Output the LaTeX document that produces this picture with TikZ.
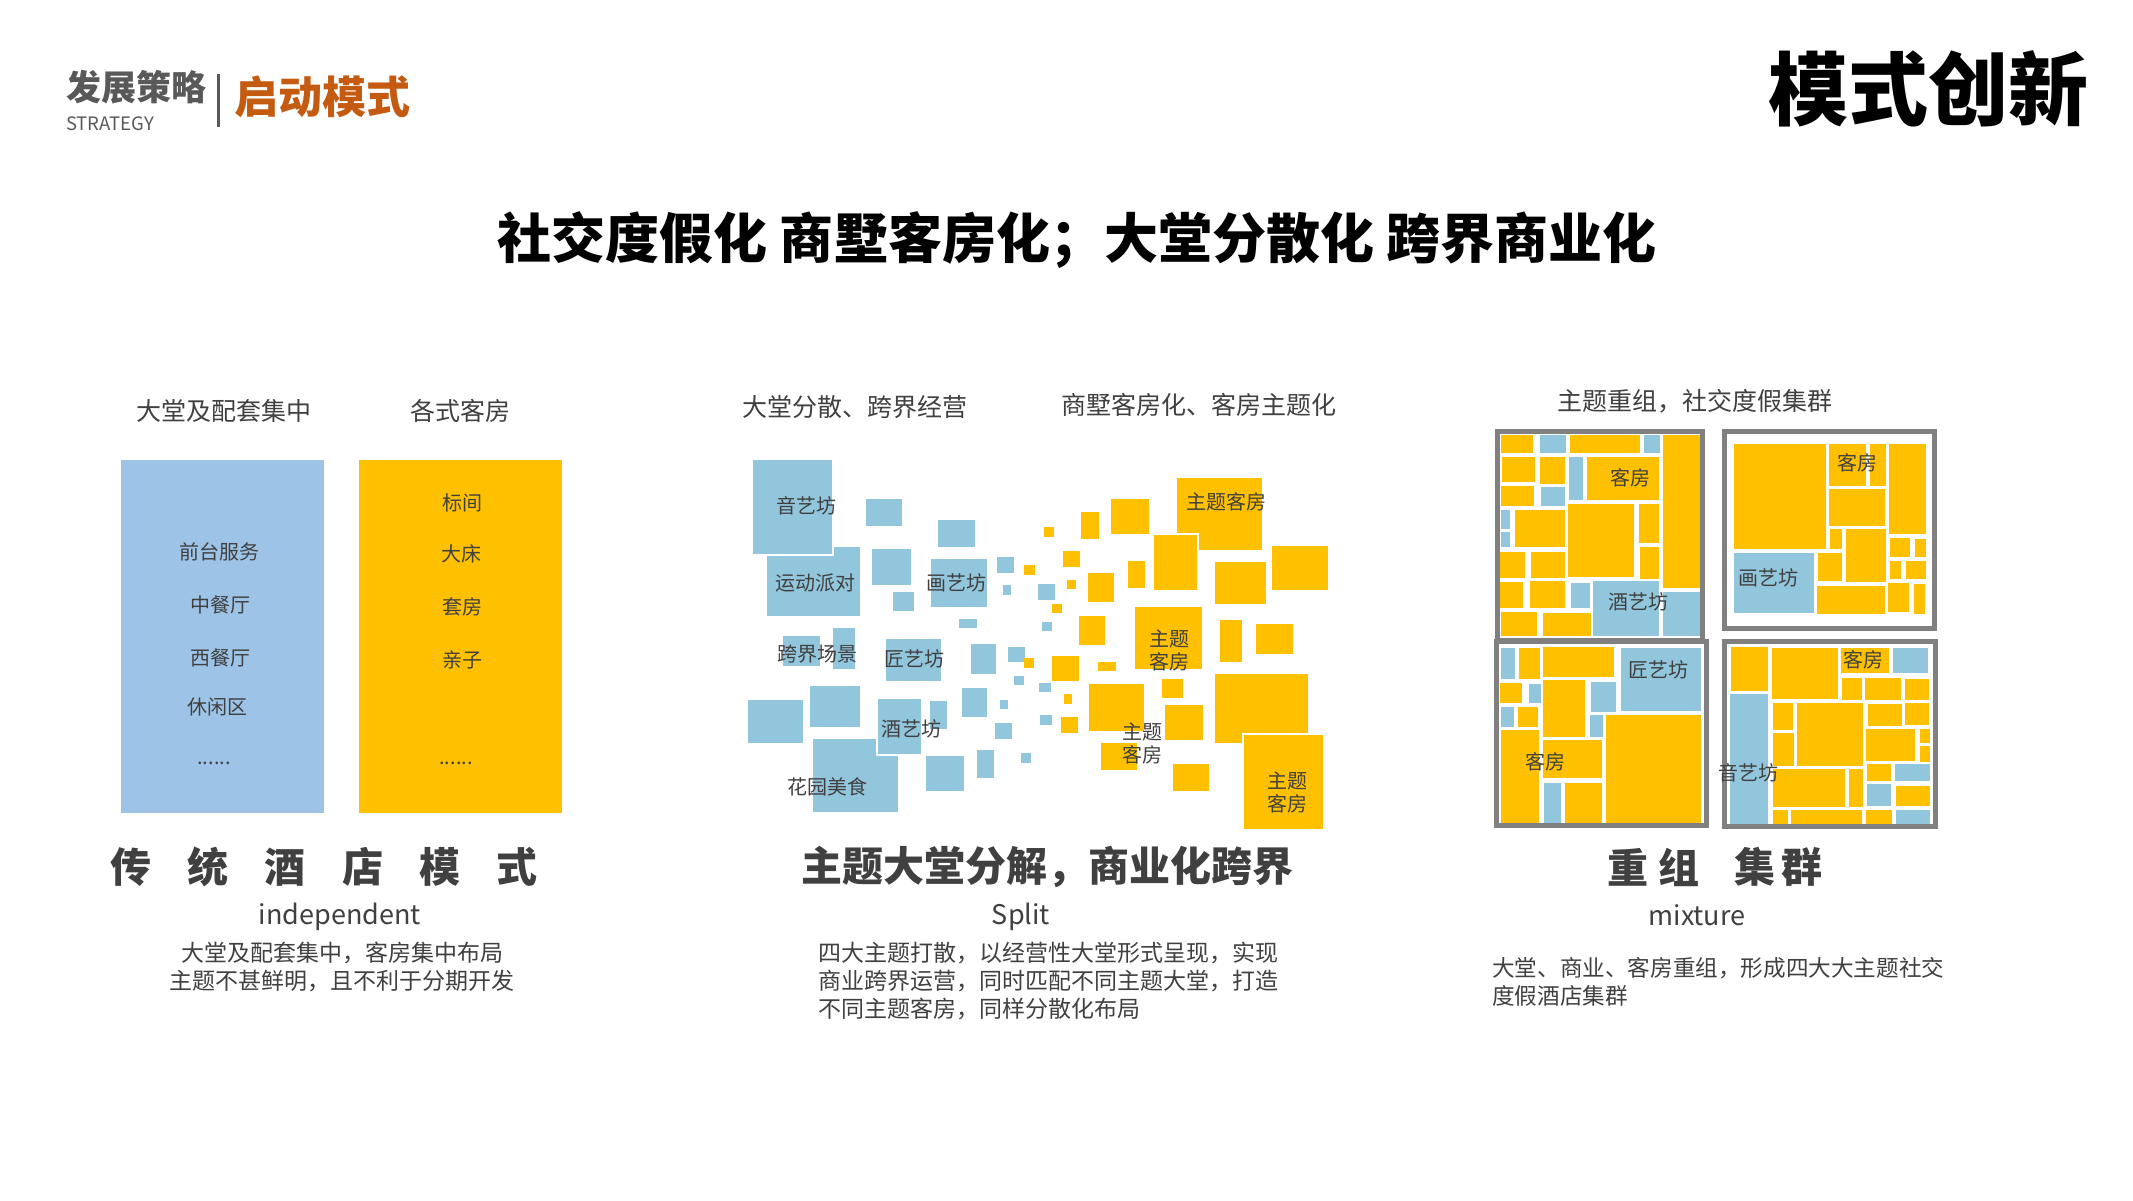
\documentclass[tikz,border=0pt]{standalone}
\usepackage{fontspec}
\setmainfont{Noto Sans CJK SC}
\usetikzlibrary{positioning}

\definecolor{ylw}{HTML}{FFC000}
\definecolor{skyb}{HTML}{92C6DC}
\definecolor{paleb}{HTML}{9DC3E6}
\definecolor{txtgray}{HTML}{404040}
\definecolor{hdgray}{HTML}{595959}
\definecolor{rust}{HTML}{C55A11}
\definecolor{framegray}{HTML}{808080}

\tikzset{
	lbl/.style={inner sep=0pt, text=txtgray, align=center, font=\fontsize{20}{23}\selectfont},
	colhead/.style={inner sep=0pt, text=txtgray, font=\fontsize{25}{30}\selectfont},
	subhead/.style={inner sep=0pt, text=txtgray, font=\fontsize{41}{48}\selectfont\bfseries},
	engl/.style={inner sep=0pt, text=txtgray, font=\fontsize{27}{32}\selectfont},
	desc/.style={inner sep=0pt, text=txtgray, font=\fontsize{23}{28}\selectfont},
	grpframe/.style={draw=framegray, line width=5pt},
	cover/.style={draw=white, line width=2pt},
	cell/.style={draw=white, line width=1pt},
}

\begin{document}
\begin{tikzpicture}[x=1pt, y=-1pt]
	\useasboundingbox (0,0) rectangle (2133,1200);
	\fill[white] (0,0) rectangle (2133,1200);

	% header
	\node[inner sep=0pt, anchor=west, text=hdgray, font=\fontsize{35}{40}\selectfont\bfseries] (strat) at (66,87) {发展策略};
	\node[inner sep=0pt, anchor=west, text=hdgray, font=\fontsize{18.5}{22}\selectfont] (stratEn) at (66,124) {STRATEGY};
	\coordinate (barTop) at (218,74);
	\coordinate (barBot) at (218,127);
	\draw[hdgray, line width=3pt] (barTop) -- (barBot);
	\node[inner sep=0pt, anchor=west, text=rust, font=\fontsize{44}{50}\selectfont\bfseries] (start) at (234,97) {启动模式};
	\node[inner sep=0pt, font=\fontsize{80}{90}\selectfont\bfseries] (innov) at (1928,89) {模式创新};
	\node[inner sep=0pt, font=\fontsize{54}{60}\selectfont\bfseries] (title) at (1077,240) {社交度假化 商墅客房化；大堂分散化 跨界商业化};

	% traditional hotel
	\node[colhead] (lobbyHead) at (224,411) {大堂及配套集中};
	\node[colhead] (roomHead) at (460,411) {各式客房};
	\fill[paleb] (121,460) rectangle (324,813);
	\fill[ylw] (359,460) rectangle (562,813);
	\node[lbl] (desk) at (219,552) {前台服务};
	\node[lbl] (chn) at (220,605) {中餐厅};
	\node[lbl] (wst) at (220,658) {西餐厅};
	\node[lbl] (rest) at (217,707) {休闲区};
	\node[lbl] (moreL) at (214,763) {......};
	\node[lbl] (std) at (462,503) {标间};
	\node[lbl] (king) at (461,554) {大床};
	\node[lbl] (suite) at (462,607) {套房};
	\node[lbl] (family) at (462,660) {亲子};
	\node[lbl] (moreR) at (456,763) {......};

	\foreach \ch [count=\i] in {传,统,酒,店,模,式}
		\node[subhead] (trad\i) at ({131+77.2*(\i-1)},867) {\ch};
	\node[engl] (indep) at (340,917) {independent};
	\node[desc, align=center, anchor=north] (tradDesc) at (342,942) {大堂及配套集中，客房集中布局\\主题不甚鲜明，且不利于分期开发};

	% split lobby
	\node[colhead] (splitHead) at (855,407) {大堂分散、跨界经营};
	\node[colhead] (themeHead) at (1199,405) {商墅客房化、客房主题化};
	\foreach \a/\b/\c/\d in {767/547/860/616, 866/499/902/526, 938/520/975/547, 872/549/911/585,
		893/592/914/611, 931/559/987/607, 997/557/1014/573, 1003/585/1011/595, 959/619/977/628,
		783/636/820/666, 833/628/855/669, 886/639/941/681, 971/644/996/674, 1008/647/1025/662,
		1014/676/1024/685, 748/700/803/743, 810/686/860/727, 813/739/898/812, 930/701/947/729,
		962/688/987/717, 1000/700/1008/709, 995/723/1012/739, 926/756/964/791, 977/750/994/778,
		1021/753/1031/763, 1038/584/1055/600, 1042/622/1052/631, 1039/683/1051/692, 1040/715/1052/725}
		\fill[skyb] (\a,\b) rectangle (\c,\d);
	\filldraw[fill=skyb, cover] (752,459) rectangle (833,555);
	\filldraw[fill=skyb, cover] (877,698) rectangle (922,755);
	\foreach \a/\b/\c/\d in {1024/565/1035/575, 1024/658/1034/668, 1044/527/1054/537, 1081/512/1099/539,
		1111/499/1149/534, 1177/478/1262/550, 1063/551/1080/567, 1067/580/1076/589, 1088/573/1114/602,
		1128/561/1145/588, 1215/562/1266/604, 1272/546/1328/590, 1052/604/1062/613, 1079/616/1105/645,
		1135/607/1202/669, 1220/620/1242/662, 1256/624/1293/654, 1052/656/1079/681, 1098/662/1116/671,
		1064/694/1072/704, 1089/684/1144/731, 1162/679/1183/698, 1165/705/1203/740, 1215/674/1308/743,
		1061/717/1078/733, 1101/743/1137/770, 1173/764/1209/791}
		\fill[ylw] (\a,\b) rectangle (\c,\d);
	\filldraw[fill=ylw, cover] (1153,534) rectangle (1198,591);
	\filldraw[fill=ylw, cover] (1243,734) rectangle (1324,830);

	\node[lbl] (music) at (806,506) {音艺坊};
	\node[lbl] (sport) at (815,583) {运动派对};
	\node[lbl] (paint) at (956,583) {画艺坊};
	\node[lbl] (cross) at (817,654) {跨界场景};
	\node[lbl] (craft) at (914,659) {匠艺坊};
	\node[lbl] (wine) at (911,729) {酒艺坊};
	\node[lbl] (garden) at (827,787) {花园美食};
	\node[lbl] (roomA) at (1226,502) {主题客房};
	\node[lbl] (roomB) at (1169,650) {主题\\客房};
	\node[lbl] (roomC) at (1142,743) {主题\\客房};
	\node[lbl] (roomD) at (1287,792) {主题\\客房};

	\node[subhead] (splitSub) at (1047,867) {主题大堂分解，商业化跨界};
	\node[engl] (split) at (1021,917) {Split};
	\node[desc, align=left, anchor=north west] (splitDesc) at (818,942) {四大主题打散，以经营性大堂形式呈现，实现\\商业跨界运营，同时匹配不同主题大堂，打造\\不同主题客房，同样分散化布局};

	% clusters
	\node[colhead] (clusterHead) at (1695,401) {主题重组，社交度假集群};
	\foreach \a/\b/\c/\d in {1500/434/1533/453, 1569/434/1640/453, 1662/434/1701/588, 1501/456/1535/482,
		1539/456/1565/484, 1586/456/1659/500, 1500/485/1534/506, 1514/509/1565/547, 1567/503/1634/577,
		1638/503/1659/543, 1639/546/1659/579, 1498/551/1525/578, 1530/551/1565/578, 1498/581/1523/608,
		1529/580/1565/608, 1500/611/1537/636, 1542/612/1591/636,
		1733/443/1826/549, 1828/443/1866/486, 1869/443/1886/486, 1888/443/1926/534, 1828/488/1885/526,
		1829/528/1842/549, 1845/528/1886/582, 1889/537/1910/557, 1914/538/1926/557, 1889/560/1901/579,
		1905/560/1926/579, 1817/552/1842/581, 1816/585/1885/614, 1887/582/1909/612, 1913/583/1925/614,
		1518/647/1540/679, 1542/646/1614/677, 1499/682/1522/703, 1542/679/1585/737, 1517/706/1538/727,
		1605/714/1701/823, 1500/729/1539/823, 1542/739/1602/778, 1564/782/1602/823,
		1730/646/1768/691, 1771/647/1838/699, 1840/647/1889/673, 1841/677/1862/700, 1864/677/1901/700,
		1904/678/1929/700, 1772/702/1793/730, 1796/702/1863/766, 1867/703/1902/726, 1904/702/1929/725,
		1772/732/1794/766, 1865/728/1915/761, 1919/728/1930/743, 1919/745/1930/762, 1772/768/1845/807,
		1848/768/1863/807, 1866/763/1891/781, 1895/785/1930/806, 1772/809/1788/824, 1790/809/1862/824,
		1865/809/1892/824}
		\filldraw[fill=ylw, cell] (\a,\b) rectangle (\c,\d);
	\foreach \a/\b/\c/\d in {1539/434/1566/453, 1643/434/1660/453, 1568/456/1583/500, 1540/486/1565/506,
		1500/509/1510/529, 1500/531/1510/547, 1570/582/1590/608, 1592/580/1659/636, 1662/591/1701/636,
		1733/552/1814/613,
		1500/647/1515/679, 1620/647/1701/711, 1528/683/1541/703, 1590/681/1616/712, 1500/706/1514/727,
		1589/714/1603/737, 1543/782/1561/823,
		1729/693/1768/824, 1892/647/1928/673, 1894/763/1930/781, 1866/783/1891/806, 1895/809/1930/824}
		\filldraw[fill=skyb, cell] (\a,\b) rectangle (\c,\d);
	\draw[grpframe] (1497.5,431.5) rectangle (1702.5,640.5);
	\draw[grpframe] (1724.5,431.5) rectangle (1934.5,628.5);
	\draw[grpframe] (1496.5,641.5) rectangle (1706.5,825.5);
	\draw[grpframe] (1724.5,641.5) rectangle (1935.5,826.5);

	\node[lbl] (kfA) at (1630,478) {客房};
	\node[lbl] (jyA) at (1638,602) {酒艺坊};
	\node[lbl] (kfB) at (1857,463) {客房};
	\node[lbl] (hyB) at (1768,578) {画艺坊};
	\node[lbl] (jyC) at (1658,670) {匠艺坊};
	\node[lbl] (kfC) at (1545,762) {客房};
	\node[lbl] (yyD) at (1748,773) {音艺坊};
	\node[lbl] (kfD) at (1863,660) {客房};

	\node[subhead] (re1) at (1628,867) {重};
	\node[subhead] (re2) at (1679,867) {组};
	\node[subhead] (re3) at (1755,867) {集};
	\node[subhead] (re4) at (1802,867) {群};
	\node[engl] (mix) at (1697,915) {mixture};
	\node[desc, align=left, anchor=north west, font=\fontsize{22.6}{28}\selectfont] (mixDesc) at (1492,957) {大堂、商业、客房重组，形成四大大主题社交\\度假酒店集群};
\end{tikzpicture}
\end{document}
